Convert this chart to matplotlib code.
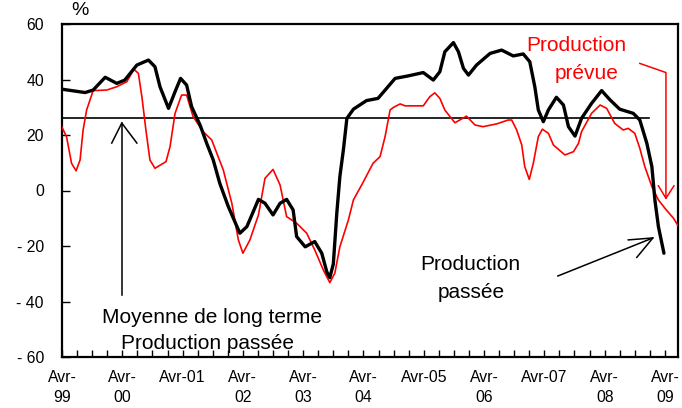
import matplotlib
matplotlib.use("Agg")
import matplotlib.pyplot as plt

plt.rcParams['font.family'] = ['Liberation Sans', 'DejaVu Sans']

# months since April 1999
past_months = [0, 4.6, 6.2, 8.6, 10.9, 12.5, 14.9, 17.2, 18.5, 19.5, 21.2, 22.5, 23.6, 24.8,
               25.8, 27.5, 28.8, 30.1, 31.4, 33.1, 35.4, 36.8, 39.1, 40.4, 42.0, 43.4, 44.7,
               46.0, 46.7, 48.4, 50.3, 51.7, 52.7, 53.3, 54.0, 54.7, 55.3, 56.0, 56.7, 58.0,
               60.6, 62.9, 64.6, 66.3, 68.9, 71.9, 73.9, 75.2, 76.2, 77.9, 78.9, 79.9, 80.9,
               82.5, 85.2, 87.5, 89.8, 91.8, 93.1, 94.1, 94.8, 95.8, 96.8, 98.4, 99.8, 100.8,
               102.1, 103.4, 105.4, 107.4, 109.1, 111.0, 113.7, 115.0, 116.4, 117.4, 118.0,
               118.7, 119.8]
past_values = [36.5, 35.3, 36.2, 40.8, 38.6, 39.8, 45.2, 47.0, 44.6, 37.4, 29.6, 35.6, 40.4, 38.0,
               30.2, 23.5, 17.0, 11.0, 2.6, -5.8, -15.4, -13.0, -3.2, -4.6, -8.8, -4.6, -3.2,
               -7.0, -16.6, -20.3, -18.4, -22.6, -29.3, -31.4, -26.5, -8.0, 5.0, 14.6, 26.0, 29.3,
               32.4, 33.2, 36.8, 40.4, 41.3, 42.5, 39.8, 42.8, 50.0, 53.3, 50.0, 44.0, 41.6,
               45.2, 49.4, 50.6, 48.5, 49.2, 46.4, 37.4, 29.0, 24.8, 29.0, 33.6, 30.8, 23.0,
               19.6, 26.0, 31.4, 36.0, 32.6, 29.3, 27.8, 25.4, 17.0, 8.6, -3.4,
               -13.0, -22.6]

expected_months = [0, 0.9, 1.9, 2.8, 3.6, 4.2, 4.9, 6.2, 8.9, 10.9, 12.9, 14.3, 15.2, 15.9, 16.7,
                   17.5, 18.5, 20.7, 21.5, 22.5, 23.8, 24.8, 26.1, 28.1, 29.8, 32.1, 33.8, 35.1,
                   36.0, 37.4, 39.1, 40.4, 42.0, 43.4, 44.7, 46.7, 48.7, 50.3, 52.0, 53.3, 54.3,
                   55.3, 57.0, 58.0, 60.0, 61.9, 63.3, 64.3, 65.3, 66.0, 67.3, 68.3, 71.9, 73.2,
                   74.2, 75.2, 76.2, 78.2, 80.5, 82.2, 83.8, 86.5, 88.8, 89.5, 90.5, 91.5, 92.1,
                   93.0, 93.8, 94.8, 95.6, 96.8, 97.8, 100.1, 101.8, 102.8, 103.4, 105.4, 107.1,
                   108.4, 110.0, 111.7, 112.7, 114.0, 115.0, 116.0, 117.4, 118.7, 120.0, 121.7,
                   122.8]
expected_values = [22.8, 19.4, 9.8, 7.1, 11.0, 21.8, 29.0, 36.0, 36.2, 37.4, 39.2, 43.7, 42.2, 33.8,
                   21.8, 11.0, 8.0, 10.4, 15.8, 27.8, 34.4, 34.4, 26.6, 21.2, 18.2, 7.4, -4.6, -17.8,
                   -22.6, -17.8, -8.8, 4.4, 7.6, 2.0, -9.4, -11.8, -15.4, -21.4, -28.6, -33.2, -29.8,
                   -20.3, -10.6, -3.4, 3.2, 9.8, 12.2, 19.4, 29.0, 30.0, 31.2, 30.5, 30.5, 33.8,
                   35.2, 33.2, 29.0, 24.4, 26.8, 23.6, 23.0, 24.0, 25.4, 25.4, 21.8, 16.4, 8.6,
                   4.0, 9.8, 19.4, 22.1, 20.6, 16.4, 12.8, 14.0, 17.0, 21.2, 27.8, 30.8,
                   29.6, 24.2, 21.8, 22.4, 20.6, 15.2, 8.6, 1.4, -3.4, -6.4, -10.0,
                   -13.2]

long_term_mean = 26.0
mean_months = [0, 116.8]

tick_months = list(range(0, 121, 12))
tick_labels = ["Avr-\n99", "Avr-\n00", "Avr-01", "Avr-\n02", "Avr-\n03", "Avr-\n04",
               "Avr-05", "Avr-\n06", "Avr-07", "Avr-\n08", "Avr-\n09"]
y_ticks = [60, 40, 20, 0, -20, -40, -60]
y_labels = ["60", "40", "20", "0", "- 20", "- 40", "- 60"]

fig = plt.figure(figsize=(6.82, 4.08), dpi=100)
ax = fig.add_axes([62 / 682, 51 / 408, 616 / 682, 333 / 408])

ax.plot(expected_months, expected_values, color='#ff0000', lw=1.2, zorder=3,
        solid_joinstyle='round')
ax.plot(past_months, past_values, color='black', lw=2.4, zorder=4, solid_joinstyle='round',
        solid_capstyle='round')
ax.plot(mean_months, [long_term_mean, long_term_mean], color='black', lw=1.2, zorder=2)

ax.set_xlim(0, 122.6)
ax.set_ylim(-60, 60)
ax.set_xticks(tick_months)
ax.set_xticklabels(tick_labels, fontsize=11.3)
for lab in ax.get_xticklabels():
    lab.set_linespacing(1.5)
ax.set_xticks(list(range(0, 121, 3)), minor=True)
ax.set_yticks(y_ticks)
ax.set_yticklabels(y_labels, fontsize=11.3)
ax.tick_params(axis='x', which='both', direction='in', length=5, width=1, pad=9)
ax.tick_params(axis='y', direction='in', length=6, width=1, pad=13)
for s in ax.spines.values():
    s.set_linewidth(1.6)
    s.set_color('black')

# Annotations
ax.plot([11.9, 11.9], [-37.7, 24.3], color='black', lw=1.1)
ax.plot([9.9, 11.9, 14.9], [17.1, 24.3, 17.1], color='black', lw=1.1)
ax.text(29.95, -45.6, "Moyenne de long terme", fontsize=15, ha='center', va='center')
ax.text(28.9, -55.0, "Production passée", fontsize=15, ha='center', va='center')

ax.plot([98.7, 117.6], [-30.8, -17.1], color='black', lw=1.1)
ax.plot([112.7, 117.6, 114.4], [-17.8, -17.1, -24.1], color='black', lw=1.1)
ax.text(81.3, -26.8, "Production", fontsize=15, ha='center', va='center')
ax.text(81.5, -36.9, "passée", fontsize=15, ha='center', va='center')

ax.plot([115.0, 120.2, 120.2], [45.8, 42.5, -2.8], color='#ff0000', lw=1.1, clip_on=False)
ax.plot([118.7, 120.2, 121.8], [1.7, -2.8, 1.7], color='#ff0000', lw=1.1)
ax.text(102.3, 52.4, "Production", fontsize=15, ha='center', va='center', color='#ff0000')
ax.text(104.5, 42.3, "prévue", fontsize=15, ha='center', va='center', color='#ff0000')

ax.text(3.6, 65.0, "%", fontsize=14, ha='center', va='center', clip_on=False)

fig.savefig("out.png", dpi=100)
